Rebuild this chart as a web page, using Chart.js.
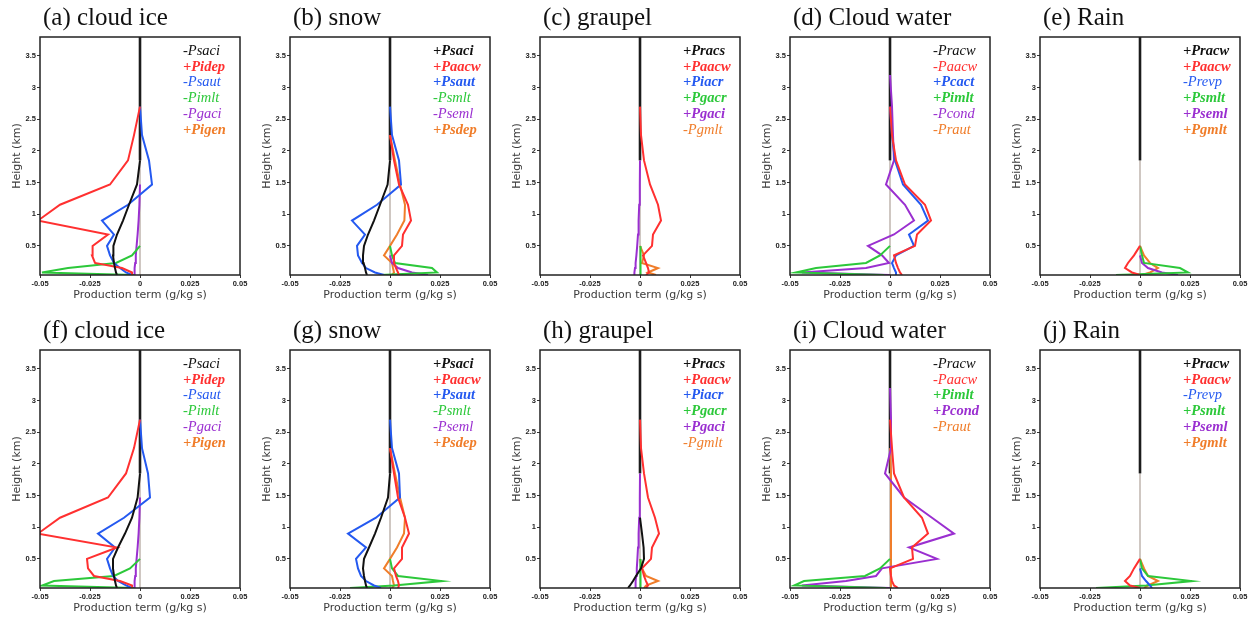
<!DOCTYPE html>
<html>
<head>
<meta charset="utf-8">
<script src="https://cdn.jsdelivr.net/npm/chart.js@4"></script>
<style>
  body { margin: 0; background: #fff; width: 1252px; height: 621px; position: relative; overflow: hidden; }
  canvas { position: absolute; }
</style>
</head>
<body>
<script>
// model levels (km), bottom to top
const LEVELS = [0.04, 0.08, 0.15, 0.23, 0.35, 0.5, 0.68, 0.9, 1.15, 1.47, 1.85, 2.25, 2.7, 3.2, 3.8];
const X_TICKS = [-0.05, -0.025, 0, 0.025, 0.05];
const Y_TICKS = [0.5, 1, 1.5, 2, 2.5, 3, 3.5];
const ZERO_DARK_FROM = 1.85; // zero line is drawn dark above this height
const ZERO = [0, 0, 0, 0, 0, 0, 0, 0, 0, 0, 0, 0, 0, 0, 0];
const _ = null;

// (a) cloud ice
const aTerms = ['-Psaci', '+Pidep', '-Psaut', '-Pimlt', '-Pgaci', '+Pigen'];
const aPsaci = [-0.0115, -0.012, -0.0125, -0.013, -0.0135, -0.0133, -0.0115, -0.0085, -0.0055, -0.0015, 0, 0, 0, 0, 0];
const aPidep = [-0.004, -0.004, -0.009, -0.0225, -0.024, -0.0237, -0.016, -0.051, -0.040, -0.015, -0.006, -0.003, 0, _, _];
const aPsaut = [-0.004, -0.007, -0.01, -0.013, -0.015, -0.0165, -0.013, -0.019, -0.006, 0.006, 0.0045, 0.001, 0, _, _];
const aPimlt = [-0.003, -0.049, -0.036, -0.012, -0.004, 0, _, _, _, _, _, _, _, _, _];
const aPgaci = [-0.003, -0.0028, -0.0026, -0.0024, -0.0021, -0.0017, -0.0012, -0.0007, -0.0003, 0, _, _, _, _, _];
const aPigen = ZERO;

// (b) snow
const bTerms = ['+Psaci', '+Paacw', '+Psaut', '-Psmlt', '-Pseml', '+Psdep'];
const bPsaci = [-0.0115, -0.012, -0.0125, -0.0132, -0.0135, -0.013, -0.011, -0.008, -0.005, -0.0012, 0, 0, 0, 0, 0];
const bPaacw = [0.0045, 0.004, 0.003, 0.002, 0.002, 0.006, 0.0065, 0.0105, 0.009, 0.0045, 0.002, 0, _, _, _];
const bPsaut = [-0.003, -0.0075, -0.012, -0.014, -0.016, -0.0165, -0.0125, -0.019, -0.0065, 0.0055, 0.0045, 0.001, 0, _, _];
const bPsmlt = [-0.005, 0.0235, 0.021, 0.0025, 0.001, 0, _, _, _, _, _, _, _, _, _];
const bPseml = [0.019, 0.011, 0.004, 0.001, 0, 0, _, _, _, _, _, _, _, _, _];
const bPsdep = [0.001, 0.002, 0.0015, 0.001, -0.003, 0, 0.0035, 0.0072, 0.0075, 0.005, 0.0025, 0, _, _, _];

// (c) graupel
const cTerms = ['+Pracs', '+Paacw', '+Piacr', '+Pgacr', '+Pgaci', '-Pgmlt'];
const cPracs = ZERO;
const cPaacw = [0.003, 0.0045, 0.004, 0.003, 0.0015, 0.006, 0.0065, 0.0105, 0.009, 0.005, 0.002, 0.0005, 0, _, _];
const cPiacr = ZERO;
const cPgacr = [0.0004, 0.0004, 0.0004, 0.0003, 0.0002, 0, _, _, _, _, _, _, _, _, _];
const cPgaci = [-0.003, -0.0028, -0.0025, -0.0022, -0.0018, -0.0014, -0.001, -0.0007, -0.0004, -0.0001, 0, _, _, _, _];
const cPgmlt = [0.008, 0.004, 0.009, 0.001, 0.002, 0, _, _, _, _, _, _, _, _, _];

// (d) cloud water
const dTerms = ['-Pracw', '-Paacw', '+Pcact', '+Pimlt', '-Pcond', '-Praut'];
const dPracw = ZERO;
const dPaacw = [0.006, 0.005, 0.004, 0.003, 0.002, 0.0125, 0.0135, 0.0205, 0.0175, 0.0075, 0.003, 0.001, 0, _, _];
const dPcact = [0.003, 0.003, 0.002, 0.001, 0.003, 0.012, 0.0095, 0.019, 0.0155, 0.0065, 0.0025, 0.001, 0, _, _];
const dPimlt = [-0.003, -0.047, -0.037, -0.012, -0.005, 0, _, _, _, _, _, _, _, _, _];
const dPcond = [0, -0.044, -0.012, -0.0005, -0.004, -0.011, 0.002, 0.012, 0.0075, -0.002, 0.002, 0.0015, 0.001, 0, _];
const dPraut = ZERO;

// (e) rain
const eTerms = ['+Pracw', '+Paacw', '-Prevp', '+Psmlt', '+Pseml', '+Pgmlt'];
const ePracw = ZERO;
const ePaacw = [0, -0.004, -0.0075, -0.006, -0.003, 0, _, _, _, _, _, _, _, _, _];
const ePrevp = ZERO;
const ePsmlt = [-0.012, 0.024, 0.02, 0.002, 0.001, 0, _, _, _, _, _, _, _, _, _];
const ePseml = [0.019, 0.011, 0.004, 0.001, 0, _, _, _, _, _, _, _, _, _, _];
const ePgmlt = [0.001, 0.005, 0.009, 0.005, 0.002, 0, _, _, _, _, _, _, _, _, _];

// (f) cloud ice
const fTerms = aTerms;
const fPsaci = [-0.0115, -0.012, -0.0125, -0.013, -0.0135, -0.0135, -0.011, -0.0075, -0.004, -0.0012, 0, 0, 0, 0, 0];
const fPidep = [-0.004, -0.004, -0.01, -0.023, -0.026, -0.0265, -0.0115, -0.051, -0.040, -0.016, -0.007, -0.003, 0, _, _];
const fPsaut = [-0.004, -0.007, -0.011, -0.0135, -0.015, -0.0165, -0.0125, -0.021, -0.008, 0.005, 0.004, 0.001, 0, _, _];
const fPimlt = [-0.003, -0.049, -0.043, -0.013, -0.005, 0, _, _, _, _, _, _, _, _, _];
const fPgaci = [-0.003, -0.0028, -0.0026, -0.0024, -0.0021, -0.0017, -0.0012, -0.0007, -0.0003, 0, _, _, _, _, _];
const fPigen = ZERO;

// (g) snow
const gTerms = bTerms;
const gPsaci = [-0.0115, -0.012, -0.0125, -0.013, -0.0135, -0.013, -0.0105, -0.0075, -0.0045, -0.001, 0, 0, 0, 0, 0];
const gPaacw = [0.004, 0.0045, 0.004, 0.003, 0.002, 0.006, 0.006, 0.0095, 0.0075, 0.004, 0.002, 0, _, _, _];
const gPsaut = [-0.0045, -0.008, -0.012, -0.0145, -0.016, -0.017, -0.012, -0.021, -0.007, 0.005, 0.0045, 0.001, 0, _, _];
const gPsmlt = [-0.02, 0.002, 0.026, 0.004, 0.001, 0, _, _, _, _, _, _, _, _, _];
const gPseml = ZERO;
const gPsdep = [0.001, 0.002, 0.0015, 0.001, -0.003, 0, 0.0035, 0.007, 0.0075, 0.005, 0.0025, 0, _, _, _];

// (h) graupel
const hTerms = cTerms;
const hPracs = [-0.006, -0.005, -0.0035, -0.002, 0.0005, 0.002, 0.0018, 0.001, 0, 0, 0, 0, 0, 0, 0];
const hPaacw = [0.003, 0.004, 0.003, 0.002, 0.001, 0.0055, 0.006, 0.0095, 0.0075, 0.004, 0.002, 0.0005, 0, _, _];
const hPiacr = ZERO;
const hPgacr = [0.0004, 0.0004, 0.0004, 0.0003, 0.0002, 0, _, _, _, _, _, _, _, _, _];
const hPgaci = [-0.0025, -0.0023, -0.0021, -0.0019, -0.0016, -0.0013, -0.001, -0.0007, -0.0004, -0.0001, 0, _, _, _, _];
const hPgmlt = [0.002, 0.003, 0.009, 0.003, 0.001, 0, _, _, _, _, _, _, _, _, _];

// (i) cloud water
const iTerms = ['-Pracw', '-Paacw', '+Pimlt', '+Pcond', '-Praut'];
const iPracw = ZERO;
const iPaacw = [0.004, 0.002, 0.001, 0.0005, 0, 0.0115, 0.011, 0.019, 0.016, 0.007, 0.002, 0.001, 0, _, _];
const iPimlt = [-0.002, -0.048, -0.043, -0.0125, -0.005, 0, _, _, _, _, _, _, _, _, _];
const iPcond = [0, -0.044, -0.022, -0.007, -0.004, 0.0235, 0.0095, 0.032, 0.021, 0.007, -0.0025, 0.0005, 0.0005, 0, _];
const iPraut = [0.0005, 0.0005, 0.0005, 0.0005, 0.0005, 0.0005, 0.0005, 0.0005, 0.0005, 0.0005, 0.0005, 0, _, _, _];

// (j) rain
const jTerms = eTerms;
const jPracw = ZERO;
const jPaacw = [0, -0.005, -0.0075, -0.005, -0.003, 0, _, _, _, _, _, _, _, _, _];
const jPrevp = [0.006, 0.005, 0.003, 0.001, 0, _, _, _, _, _, _, _, _, _, _];
const jPsmlt = [-0.022, 0.003, 0.026, 0.004, 0.001, 0, _, _, _, _, _, _, _, _, _];
const jPseml = ZERO;
const jPgmlt = [0.002, 0.004, 0.009, 0.004, 0.002, 0, _, _, _, _, _, _, _, _, _];

const COLORS = { k: '#111111', r: '#ff3030', b: '#2459f0', g: '#2cc83a', p: '#9a2fd0', o: '#f07d2a' };

const panels = [
  { title: '(a) cloud ice',   terms: aTerms, colors: 'krbgpo', values: [aPsaci, aPidep, aPsaut, aPimlt, aPgaci, aPigen] },
  { title: '(b) snow',        terms: bTerms, colors: 'krbgpo', values: [bPsaci, bPaacw, bPsaut, bPsmlt, bPseml, bPsdep] },
  { title: '(c) graupel',     terms: cTerms, colors: 'krbgpo', values: [cPracs, cPaacw, cPiacr, cPgacr, cPgaci, cPgmlt] },
  { title: '(d) Cloud water', terms: dTerms, colors: 'krbgpo', values: [dPracw, dPaacw, dPcact, dPimlt, dPcond, dPraut] },
  { title: '(e) Rain',        terms: eTerms, colors: 'krbgpo', values: [ePracw, ePaacw, ePrevp, ePsmlt, ePseml, ePgmlt] },
  { title: '(f) cloud ice',   terms: fTerms, colors: 'krbgpo', values: [fPsaci, fPidep, fPsaut, fPimlt, fPgaci, fPigen] },
  { title: '(g) snow',        terms: gTerms, colors: 'krbgpo', values: [gPsaci, gPaacw, gPsaut, gPsmlt, gPseml, gPsdep] },
  { title: '(h) graupel',     terms: hTerms, colors: 'krbgpo', values: [hPracs, hPaacw, hPiacr, hPgacr, hPgaci, hPgmlt] },
  { title: '(i) Cloud water', terms: iTerms, colors: 'krgpo',  values: [iPracw, iPaacw, iPimlt, iPcond, iPraut] },
  { title: '(j) Rain',        terms: jTerms, colors: 'krbgpo', values: [jPracw, jPaacw, jPrevp, jPsmlt, jPseml, jPgmlt] }
];

// title, legend, zero line and frame of each panel
const panelDecor = {
  id: 'panelDecor',
  beforeDatasetsDraw(chart) {
    const { ctx, chartArea: a, scales: { x, y } } = chart;
    const x0 = x.getPixelForValue(0);
    const yMid = y.getPixelForValue(ZERO_DARK_FROM);
    ctx.save();
    ctx.lineWidth = 2;
    ctx.strokeStyle = '#cfc7c2';
    ctx.beginPath(); ctx.moveTo(x0, yMid); ctx.lineTo(x0, a.bottom); ctx.stroke();
    ctx.lineWidth = 2.6;
    ctx.strokeStyle = '#1c1c1c';
    ctx.beginPath(); ctx.moveTo(x0, a.top); ctx.lineTo(x0, yMid); ctx.stroke();
    ctx.restore();
  },
  afterDraw(chart) {
    const { ctx, chartArea: a } = chart;
    const p = chart.config.options.plugins.panelDecor;
    ctx.save();
    ctx.strokeStyle = '#222';
    ctx.lineWidth = 1.5;
    ctx.strokeRect(a.left, a.top, a.right - a.left, a.bottom - a.top);

    ctx.fillStyle = '#111';
    ctx.font = '25px "Liberation Serif"';
    ctx.textBaseline = 'alphabetic';
    ctx.fillText(p.title, a.left + 3, 25);

    p.terms.forEach((t, i) => {
      const bold = t[0] === '+';
      ctx.font = 'italic ' + (bold ? 'bold ' : '') + '14.5px "Liberation Serif"';
      ctx.fillStyle = COLORS[p.colors[i]];
      ctx.fillText(t, a.left + 143, a.top + 18 + i * 15.7);
    });
    ctx.restore();
  }
};

const tickFont = { family: 'Liberation Sans', size: 7.5, weight: 'bold' };
const titleFont = { family: 'DejaVu Sans', size: 11 };

panels.forEach((p, n) => {
  const canvas = document.createElement('canvas');
  canvas.width = 250;
  canvas.height = 310;
  canvas.style.left = (n % 5) * 250 + 'px';
  canvas.style.top = Math.floor(n / 5) * 313 + 'px';
  document.body.appendChild(canvas);

  const datasets = p.values.map((vals, i) => ({
    label: p.terms[i],
    data: LEVELS.map((h, k) => vals[k] === null ? null : { x: vals[k], y: h }).filter(Boolean),
    showLine: true,
    borderColor: COLORS[p.colors[i]],
    borderWidth: 2,
    pointRadius: 0,
    segment: {
      // stretches lying on the zero line are left to the zero line itself
      borderColor: c => (c.p0.parsed.x === 0 && c.p1.parsed.x === 0) ? 'rgba(0,0,0,0)' : undefined
    }
  }));

  new Chart(canvas.getContext('2d'), {
    type: 'scatter',
    data: { datasets },
    options: {
      responsive: false,
      animation: false,
      devicePixelRatio: 1,
      layout: { padding: { top: 37, right: 10, left: 0, bottom: 0 } },
      plugins: {
        legend: { display: false },
        tooltip: { enabled: false },
        panelDecor: { title: p.title, terms: p.terms, colors: p.colors }
      },
      scales: {
        x: {
          type: 'linear',
          min: -0.05,
          max: 0.05,
          afterBuildTicks: s => { s.ticks = X_TICKS.map(v => ({ value: v })); },
          afterFit: s => { s.height = 35; },
          ticks: { font: tickFont, color: '#222', padding: 1, maxRotation: 0, callback: v => String(v) },
          grid: { drawOnChartArea: false, drawTicks: true, tickLength: 3, color: '#333' },
          border: { display: false },
          title: { display: true, text: 'Production term (g/kg s)', font: titleFont, color: '#3a3a3a', padding: { top: 0, bottom: 8 } }
        },
        y: {
          type: 'linear',
          min: 0.04,
          max: 3.8,
          afterBuildTicks: s => { s.ticks = Y_TICKS.map(v => ({ value: v })); },
          afterFit: s => { s.width = 40; },
          ticks: { font: tickFont, color: '#222', padding: 1, callback: v => String(v) },
          grid: { drawOnChartArea: false, drawTicks: true, tickLength: 3, color: '#333' },
          border: { display: false },
          title: { display: true, text: 'Height (km)', font: titleFont, color: '#3a3a3a', padding: { top: 11, bottom: 0 } }
        }
      }
    },
    plugins: [panelDecor]
  });
});
</script>
</body>
</html>
